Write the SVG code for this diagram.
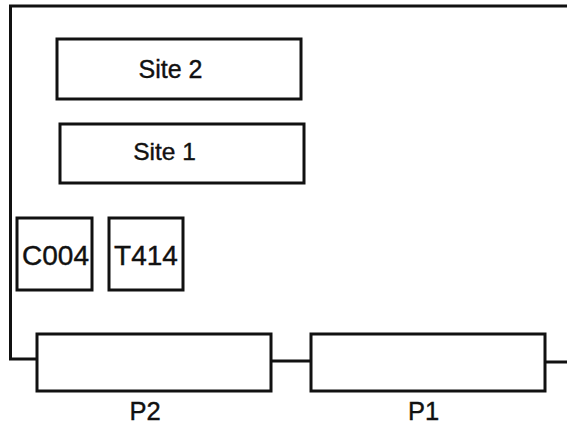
<svg xmlns="http://www.w3.org/2000/svg" width="567" height="426" viewBox="0 0 567 426">
<style>
.box{fill:#fff;stroke:#111;stroke-width:3}
.ln{fill:none;stroke:#111;stroke-width:3}
.t{font-family:"Liberation Sans",Arial,sans-serif;fill:#111;stroke:#111;stroke-width:0.4;text-anchor:middle}
</style>
<rect width="567" height="426" fill="#fff"/>
<g id="connectors">
<path class="ln" d="M567,6 H10.5 V359 H37"/>
<path class="ln" d="M271,361 H311"/>
<path class="ln" d="M545,362 H567"/>
</g>
<g id="site2"><rect class="box" x="57" y="39" width="244" height="60"/><text class="t" x="170.5" y="78" font-size="25">Site 2</text></g>
<g id="site1"><rect class="box" x="60" y="124" width="244" height="59"/><text class="t" x="164.5" y="160" font-size="24.5">Site 1</text></g>
<g id="c004"><rect class="box" x="17" y="218" width="75" height="72"/><text class="t" x="55.5" y="265" font-size="28">C004</text></g>
<g id="t414"><rect class="box" x="109" y="218" width="74" height="72"/><text class="t" x="146" y="265" font-size="28">T414</text></g>
<g id="p2"><rect class="box" x="37" y="334" width="234" height="57"/><text class="t" x="145" y="420" font-size="25.5">P2</text></g>
<g id="p1"><rect class="box" x="311" y="334" width="234" height="57"/><text class="t" x="423.5" y="420" font-size="25.5">P1</text></g>
</svg>
